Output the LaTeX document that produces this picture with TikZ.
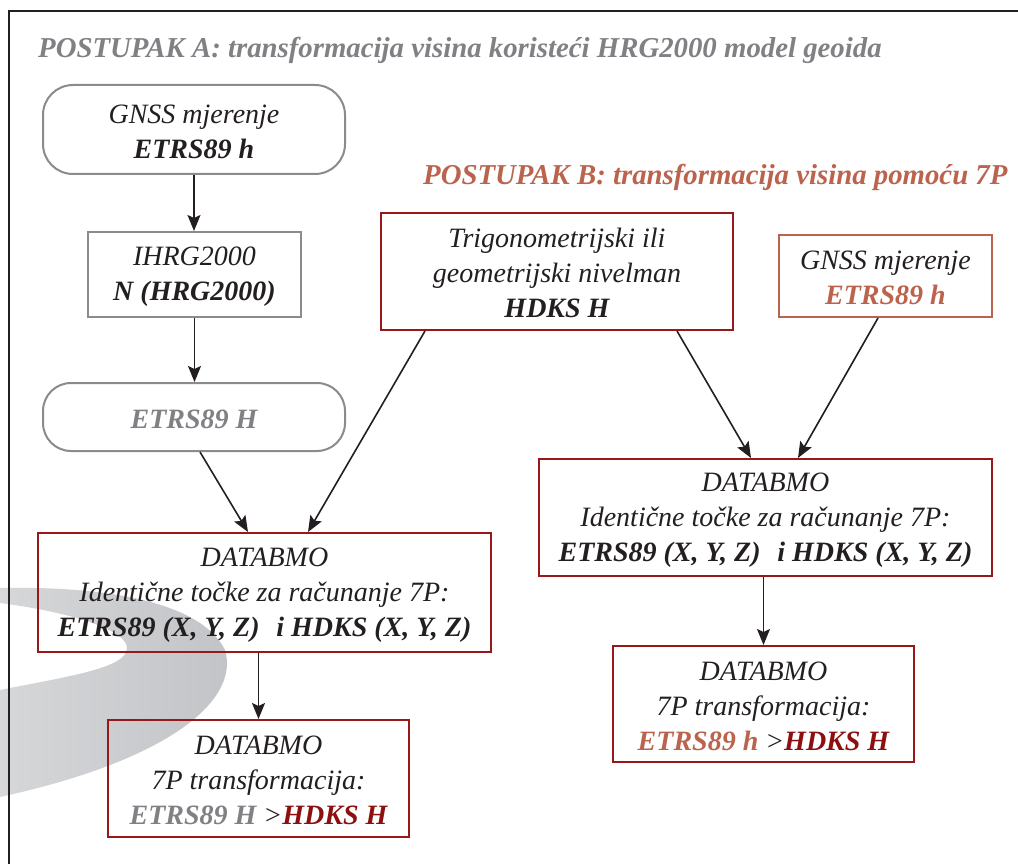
\documentclass[tikz,border=0pt]{standalone}
\usepackage{fontspec}
\setmainfont{Liberation Serif}
\usetikzlibrary{arrows.meta,calc}

\definecolor{inkblack}{RGB}{35,31,32}
\definecolor{greytext}{RGB}{128,129,132}
\definecolor{greyline}{RGB}{138,139,141}
\definecolor{darkred}{RGB}{150,24,24}
\definecolor{redtext}{RGB}{140,16,16}
\definecolor{rust}{RGB}{188,99,77}
\definecolor{swooshL}{RGB}{214,215,217}
\definecolor{swooshR}{RGB}{194,195,198}

% a little extra room above the first line of every box
\newcommand{\topgap}{\rule{0pt}{23pt}}

\tikzset{
  boxtext/.style={font=\fontsize{28}{35}\selectfont\itshape, text=inkblack, align=center, inner sep=0pt},
  greybox/.style={boxtext, draw=greyline, line width=2pt},
  greypill/.style={greybox, rounded corners=30pt},
  redbox/.style={boxtext, draw=darkred, line width=2pt},
  rustbox/.style={boxtext, draw=rust, line width=2pt},
  flow/.style={draw=inkblack, line width=1.6pt, -{Stealth[length=16pt,width=13pt,inset=3pt]}},
  heading/.style={font=\fontsize{28.8}{34}\selectfont\bfseries\itshape, inner sep=0pt, anchor=base west},
}

\begin{document}
\begin{tikzpicture}[x=1pt,y=-1pt]
\useasboundingbox (0,0) rectangle (1018,864);
\fill[white] (0,0) rectangle (1018,864);

% grey swoosh in the background
\shade[left color=swooshL, right color=swooshR]
  (0,588) .. controls (100,586) and (200,600) .. (225,650)
  .. controls (240,700) and (170,760) .. (0,797)
  -- (0,690) .. controls (70,676) and (127,668) .. (127,648)
  .. controls (127,630) and (70,612) .. (0,603) -- cycle;

% page frame (left and top)
\draw[line width=2pt, inkblack] (9,864) -- (9,11) -- (1018,11);

% headings
\node[heading, text=greytext] (titleA) at (38,58) {POSTUPAK A: transformacija visina koristeći HRG2000 model geoida};
\node[heading, text=rust] (titleB) at (423,185) {POSTUPAK B: transformacija visina pomoću 7P};

% procedure A
\node[greypill, minimum width=302pt, minimum height=89pt] (gnssA) at (194,129.5) {\topgap GNSS mjerenje\\\textbf{ETRS89 h}};
\node[greybox, minimum width=213pt, minimum height=85pt] (ihrg) at (194.5,274.5) {\topgap IHRG2000\\\textbf{N (HRG2000)}};
\node[greypill, rounded corners=28pt, minimum width=302pt, minimum height=68pt] (etrsH) at (194,417) {\topgap\textbf{\color{greytext}ETRS89 H}};
\node[redbox, minimum width=453pt, minimum height=119pt] (identA) at (264.5,592.5) {\topgap DATABMO\\Identične točke za računanje 7P:\\\textbf{ETRS89 (X, Y, Z)\hspace{0.35em} i HDKS (X, Y, Z)}};
\node[redbox, minimum width=301pt, minimum height=117pt] (resA) at (258.5,778.5) {\topgap DATABMO\\7P transformacija:\\\textbf{\color{greytext}ETRS89 H} >\textbf{\color{redtext}HDKS H}};

% procedure B
\node[redbox, minimum width=352pt, minimum height=117pt] (trig) at (557,271.5) {\topgap Trigonometrijski ili\\geometrijski nivelman\\\textbf{HDKS H}};
\node[rustbox, minimum width=213pt, minimum height=82pt] (gnssB) at (885.5,276) {\topgap GNSS mjerenje\\\textbf{\color{rust}ETRS89 h}};
\node[redbox, minimum width=453pt, minimum height=117pt] (identB) at (765.5,517.5) {\topgap DATABMO\\Identične točke za računanje 7P:\\\textbf{ETRS89 (X, Y, Z)\hspace{0.35em} i HDKS (X, Y, Z)}};
\node[redbox, minimum width=301pt, minimum height=116pt] (resB) at (763.5,704) {\topgap DATABMO\\7P transformacija:\\\textbf{\color{rust}ETRS89 h} >\textbf{\color{redtext}HDKS H}};

% connectors
\draw[flow] (gnssA.south) -- (gnssA.south |- ihrg.north);
\draw[flow] (ihrg.south) -- (ihrg.south |- etrsH.north);
\draw[flow] ([xshift=6pt]etrsH.south) -- ([xshift=-16.5pt]identA.north);
\draw[flow] ([xshift=-132pt]trig.south) -- ([xshift=43.5pt]identA.north);
\draw[flow] (identA.south -| resA.north) -- (resA.north);
\draw[flow] ([xshift=120pt]trig.south) -- ([xshift=-14.5pt]identB.north);
\draw[flow] ([xshift=-7.5pt]gnssB.south) -- ([xshift=32.5pt]identB.north);
\draw[flow] (identB.south -| resB.north) -- (resB.north);
\end{tikzpicture}
\end{document}
